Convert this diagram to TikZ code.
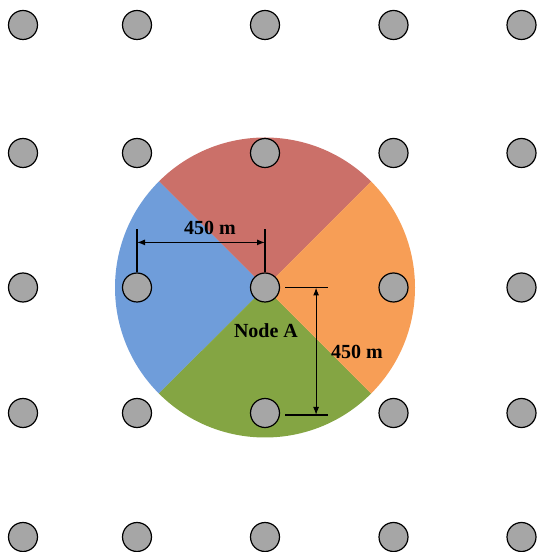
\documentclass[tikz,border=0pt]{standalone}
\usepackage{fontspec}
\setmainfont{Liberation Serif}
\usetikzlibrary{positioning,arrows.meta}
\definecolor{secred}{HTML}{CB7069}
\definecolor{secorange}{HTML}{F79E56}
\definecolor{secblue}{HTML}{6F9DDA}
\definecolor{secgreen}{HTML}{84A543}
\definecolor{sitegray}{HTML}{A6A6A6}
\begin{document}
\begin{tikzpicture}[x=1pt,y=1pt,>={Latex[length=8pt,width=6pt]},
  site/.style={circle,draw=black,fill=sitegray,line width=1.2pt,minimum size=29pt,inner sep=0pt},
  dim/.style={line width=1.2pt},
  lbl/.style={font=\fontsize{20}{24}\selectfont\bfseries}]
	\useasboundingbox (0,0) rectangle (536,552);
	% coverage of Node A, four sectors
	\coordinate (c) at (265,264.5);
	\fill[secred] (c) -- ++(45:150) arc (45:135:150) -- cycle;
	\fill[secblue] (c) -- ++(135:150) arc (135:225:150) -- cycle;
	\fill[secgreen] (c) -- ++(225:150) arc (225:315:150) -- cycle;
	\fill[secorange] (c) -- ++(-45:150) arc (-45:45:150) -- cycle;
	% grid of sites
	\foreach \px [count=\i] in {23,137,265,393.5,521.5}
	  \foreach \py [count=\j] in {527,399,264.5,139,15}
	    \node[site] (n\i\j) at (\px,\py) {};
	% horizontal distance
	\draw[dim] (n23.north) -- ++(0,43);
	\draw[dim] (n33.north) -- ++(0,43);
	\coordinate (hl) at ([yshift=30pt]n23.north);
	\coordinate (hr) at ([yshift=30pt]n33.north);
	\draw[dim,<->] (hl) -- (hr);
	\node[lbl] (dh) at (210,324) {450 m};
	% vertical distance
	\draw[dim] ([xshift=5pt]n33.east) -- ++(43,0);
	\draw[dim] ([xshift=5pt,yshift=-2pt]n34.east) -- ++(43,0);
	\coordinate (vt) at ([xshift=36pt]n33.east);
	\coordinate (vb) at ([xshift=36pt,yshift=-2pt]n34.east);
	\draw[dim,<->] (vt) -- (vb);
	\node[lbl] (dv) at (357,200) {450 m};
	\node[lbl] (nodeA) at (266,221) {Node A};
\end{tikzpicture}
\end{document}
